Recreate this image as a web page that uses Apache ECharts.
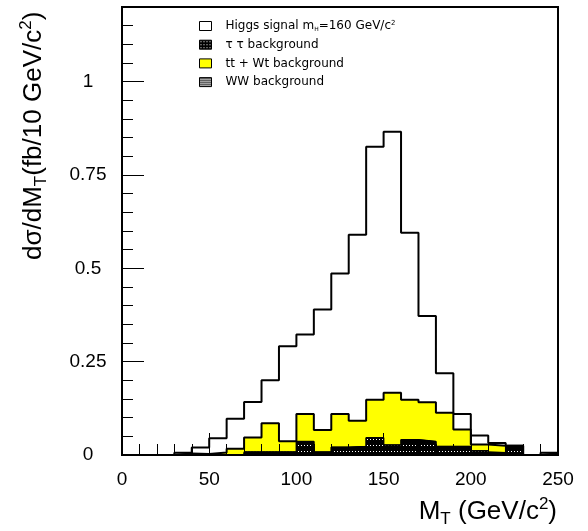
<!DOCTYPE html>
<html>
<head>
<meta charset="utf-8">
<script src="https://cdn.jsdelivr.net/npm/echarts@6/dist/echarts.min.js"></script>
<style>
  html, body { margin: 0; padding: 0; background: #fff; }
  #chart { width: 588px; height: 531px; }
</style>
</head>
<body>
<div id="chart"></div>
<script>
// Transverse-mass histograms, 10 GeV/c^2 bins (lower edges)
const binLow = [0, 10, 20, 30, 40, 50, 60, 70, 80, 90, 100, 110, 120, 130, 140, 150, 160, 170, 180, 190, 200, 210, 220, 230, 240];
const binWidth = 10;

// dσ/dM_T in fb / 10 GeV/c^2
const higgsSignal = [0, 0, 0, 0.006, 0.020, 0.045, 0.097, 0.142, 0.200, 0.291, 0.323, 0.390, 0.486, 0.590, 0.826, 0.866, 0.595, 0.372, 0.219, 0.110, 0.052, 0.032, 0.025, 0, 0.006];
const wwBkg       = [0, 0, 0, 0, 0, 0, 0, 0.006, 0.006, 0.006, 0.036, 0.008, 0.021, 0.023, 0.046, 0.027, 0.041, 0.036, 0.023, 0.023, 0.008, 0.006, 0.022, 0, 0];
const tautauBkg   = [0, 0, 0, 0.004, 0.003, 0, 0, 0.003, 0.003, 0.003, 0, 0, 0, 0, 0, 0, 0, 0, 0, 0, 0.004, 0, 0, 0, 0];
const ttWtBkg     = [0, 0, 0, 0, 0, 0.007, 0.017, 0.038, 0.076, 0.028, 0.074, 0.059, 0.089, 0.069, 0.102, 0.140, 0.107, 0.105, 0.090, 0.045, 0.016, 0.019, 0.003, 0, 0.005];

// Axis ticks and labels
const xRange = [0, 250];
const yRange = [0, 1.2];
const xMajorStep = 50;
const yMajorStep = 0.25;
const yMinorStep = 0.05;
const yTickLabels = ['0', '0.25', '0.5', '0.75', '1'];

// Legend entries
const seriesNames = ['Higgs signal', 'ττ background', 'tt + Wt background', 'WW background'];
const legendLabels = {
  'Higgs signal': 'Higgs signal m{sub|H}=160 GeV/c{sup|2}',
  'ττ background': 'τ τ background',
  'tt + Wt background': 'tt + Wt background',
  'WW background': 'WW background'
};

// Fill patterns (ROOT-style hatches)
function makePattern(w, h, draw) {
  const c = document.createElement('canvas');
  c.width = w; c.height = h;
  draw(c.getContext('2d'));
  return { image: c, repeat: 'repeat' };
}
const stripePattern = makePattern(4, 2, g => { g.fillStyle = '#000'; g.fillRect(0, 0, 4, 1); });
const dotPattern = makePattern(3, 3, g => {
  g.fillStyle = '#000'; g.fillRect(0, 0, 3, 3);
  g.fillStyle = '#fff'; g.fillRect(1, 1, 1, 1);
});

// Step outline points: one point per bin lower edge, closed down to zero on both ends
function stepData(vals) {
  const pts = [[binLow[0], 0]];
  vals.forEach((v, i) => pts.push([binLow[i], v]));
  const end = binLow[binLow.length - 1] + binWidth;
  pts.push([end, vals[vals.length - 1]]);
  pts.push([end, 0]);
  return pts;
}

// Stacked background totals (each layer is filled from zero, drawn top layer first)
const bgWW = wwBkg.slice();
const bgWWTau = wwBkg.map((v, i) => v + tautauBkg[i]);
const bgTotal = bgWWTau.map((v, i) => v + ttWtBkg[i]);

function histSeries(name, vals, fill, z, width) {
  return {
    name: name,
    type: 'line',
    step: 'end',
    data: stepData(vals),
    symbol: 'none',
    silent: true,
    z: z,
    lineStyle: { color: '#000', width: width },
    areaStyle: { color: fill, opacity: 1 }
  };
}

const axisFont = 'Liberation Sans, Arial, Helvetica, sans-serif';
const titleRich = {
  sub: { fontSize: 17, fontFamily: axisFont, verticalAlign: 'bottom', lineHeight: 17 },
  sup: { fontSize: 17, fontFamily: axisFont, verticalAlign: 'top', lineHeight: 17 }
};

const option = {
  animation: false,
  backgroundColor: '#fff',
  grid: {
    left: 122, right: 30, top: 7, bottom: 76,
    show: true, borderColor: '#000', borderWidth: 2, backgroundColor: 'transparent'
  },
  legend: {
    orient: 'vertical',
    left: 199, top: 20,
    padding: 0,
    itemWidth: 12, itemHeight: 9, itemGap: 6.7,
    icon: 'rect',
    selectedMode: false,
    formatter: name => legendLabels[name],
    textStyle: {
      fontFamily: 'DejaVu Sans, sans-serif', fontSize: 12, color: '#000',
      padding: [0, 0, 0, 9],
      rich: {
        sub: { fontSize: 6, verticalAlign: 'bottom', fontFamily: 'DejaVu Sans, sans-serif' },
        sup: { fontSize: 7, verticalAlign: 'top', fontFamily: 'DejaVu Sans, sans-serif' }
      }
    },
    data: [
      { name: seriesNames[0], itemStyle: { color: '#fff', borderColor: '#000', borderWidth: 1 } },
      { name: seriesNames[1], itemStyle: { color: dotPattern, borderColor: '#000', borderWidth: 1 } },
      { name: seriesNames[2], itemStyle: { color: '#ffff00', borderColor: '#000', borderWidth: 1 } },
      { name: seriesNames[3], itemStyle: { color: stripePattern, borderColor: '#000', borderWidth: 1 } }
    ]
  },
  xAxis: [{
    type: 'value',
    min: xRange[0], max: xRange[1], interval: xMajorStep,
    z: 10,
    axisLine: { show: true, onZero: false, lineStyle: { color: '#000', width: 2 } },
    axisTick: { show: true, inside: true, length: 22, lineStyle: { color: '#000', width: 1 } },
    minorTick: { show: true, splitNumber: 5, length: 11, lineStyle: { color: '#000', width: 1 } },
    splitLine: { show: false },
    axisLabel: { color: '#000', fontSize: 19, fontFamily: axisFont, margin: 15 }
  }],
  yAxis: [{
    type: 'value',
    min: yRange[0], max: yRange[1], interval: yMajorStep,
    z: 10,
    axisLine: { show: true, onZero: false, lineStyle: { color: '#000', width: 2 } },
    axisTick: { show: true, inside: true, length: 22, lineStyle: { color: '#000', width: 1 } },
    splitLine: { show: false },
    axisLabel: {
      color: '#000', fontSize: 19, fontFamily: axisFont, margin: 34, align: 'center',
      showMaxLabel: false,
      formatter: v => {
        const k = Math.round(v / yMajorStep);
        return Math.abs(k * yMajorStep - v) < 1e-9 && k < yTickLabels.length ? yTickLabels[k] : '';
      }
    }
  }, {
    type: 'value',
    min: yRange[0], max: yRange[1], interval: yMinorStep,
    position: 'left',
    z: 10,
    axisLine: { show: false },
    axisTick: { show: true, inside: true, length: 11, lineStyle: { color: '#000', width: 1 } },
    splitLine: { show: false },
    axisLabel: { show: false }
  }],
  graphic: [{
    type: 'text',
    x: 557, y: 512,
    z: 20,
    style: {
      text: 'M{sub|T} (GeV/c{sup|2})',
      textAlign: 'right', textVerticalAlign: 'middle',
      fontFamily: axisFont, fontSize: 26, fill: '#000', lineHeight: 32,
      rich: titleRich
    }
  }, {
    type: 'text',
    x: 34, y: 260,
    rotation: Math.PI / 2,
    z: 20,
    style: {
      text: 'dσ/dM{sub|T}(fb/10 GeV/c{sup|2})',
      textAlign: 'left', textVerticalAlign: 'middle',
      fontFamily: axisFont, fontSize: 26, fill: '#000', lineHeight: 32,
      rich: titleRich
    }
  }],
  series: [
    histSeries(seriesNames[0], higgsSignal, '#fff', 2, 2),
    histSeries(seriesNames[2], bgTotal, '#ffff00', 3, 2),
    histSeries(seriesNames[1], bgWWTau, dotPattern, 4, 1),
    histSeries(seriesNames[3], bgWW, stripePattern, 5, 1.5)
  ]
};

const chart = echarts.init(document.getElementById('chart'), null, { renderer: 'canvas' });
chart.setOption(option);
</script>
</body>
</html>
